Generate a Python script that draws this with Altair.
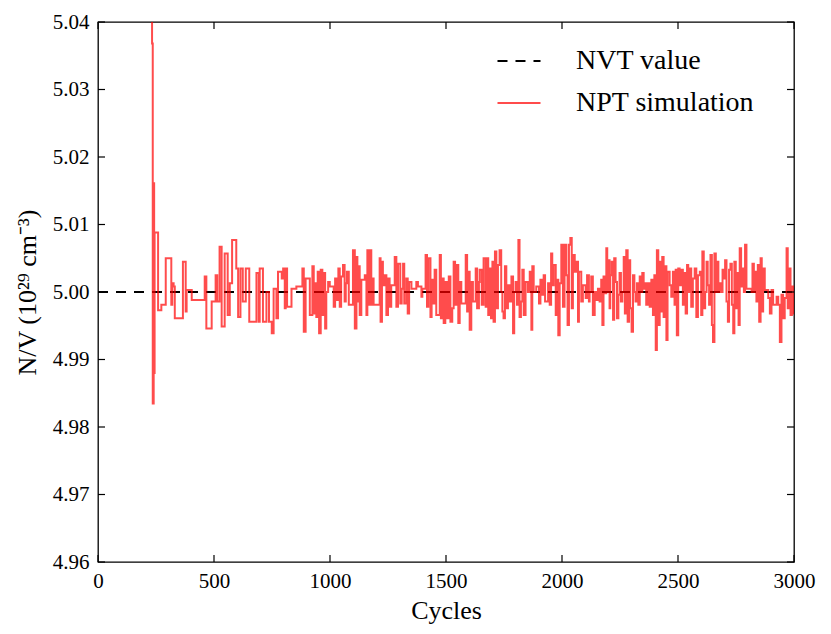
import altair as alt
import pandas as pd

# ---- data ----
cycles = [
    230, 233, 236, 240, 242, 244, 259, 273, 292, 316, 320, 326, 331, 366, 378, 382, 404,
    460, 467, 490, 507, 514, 524, 533, 546, 559, 568, 578, 596, 604, 614, 624, 637, 652, 683, 693,
    697, 711, 726, 737, 749, 757, 769, 776, 792, 798, 805, 809, 815, 834, 855, 881, 887, 895,
    913, 924, 930, 936, 941, 947, 953, 960, 967, 973, 979, 984, 992, 999, 1016, 1022, 1030,
    1036, 1042, 1048, 1056, 1063, 1068, 1073, 1081, 1099, 1107, 1114, 1118, 1122, 1128, 1135,
    1150, 1157, 1161, 1168, 1171, 1178, 1182, 1188, 1214, 1218, 1224, 1228, 1236, 1243, 1250,
    1257, 1264, 1279, 1286, 1293, 1303, 1309, 1315, 1320, 1329, 1335, 1341, 1351, 1372, 1379,
    1394, 1398, 1412, 1418, 1424, 1433, 1438, 1444, 1451, 1458, 1473, 1478, 1484, 1490, 1497,
    1504, 1512, 1519, 1527, 1533, 1539, 1547, 1553, 1559, 1566, 1585, 1591, 1596, 1602, 1609,
    1616, 1628, 1634, 1642, 1645, 1654, 1662, 1671, 1677, 1682, 1688, 1694, 1700, 1705, 1711,
    1717, 1724, 1731, 1738, 1743, 1748, 1754, 1760, 1767, 1774, 1782, 1789, 1794, 1800, 1806,
    1812, 1817, 1823, 1829, 1835, 1843, 1853, 1861, 1868, 1872, 1878, 1889, 1901, 1907, 1915,
    1921, 1927, 1940, 1947, 1953, 1958, 1964, 1973, 1978, 1984, 1990, 1997, 2004, 2011, 2019,
    2024, 2030, 2036, 2042, 2047, 2055, 2062, 2069, 2073, 2083, 2090, 2102, 2108, 2116, 2119,
    2126, 2133, 2141, 2148, 2155, 2162, 2169, 2174, 2179, 2185, 2191, 2195, 2201, 2205, 2208,
    2214, 2220, 2225, 2231, 2237, 2243, 2248, 2254, 2260, 2266, 2271, 2277, 2283, 2289, 2294,
    2300, 2306, 2312, 2317, 2323, 2329, 2335, 2340, 2346, 2352, 2358, 2363, 2370, 2378, 2385,
    2392, 2398, 2404, 2409, 2415, 2421, 2427, 2432, 2438, 2444, 2450, 2455, 2464, 2471, 2478,
    2485, 2490, 2495, 2501, 2507, 2514, 2521, 2527, 2533, 2539, 2544, 2550, 2557, 2564, 2572,
    2579, 2586, 2594, 2600, 2605, 2611, 2617, 2623, 2628, 2634, 2640, 2646, 2651, 2657, 2663,
    2669, 2674, 2680, 2686, 2692, 2697, 2703, 2709, 2715, 2720, 2726, 2732, 2738, 2743, 2749,
    2755, 2761, 2766, 2772, 2778, 2784, 2789, 2795, 2817, 2821, 2827, 2833, 2838, 2844, 2850,
    2856, 2861, 2867, 2874, 2889, 2896, 2903, 2910, 2925, 2932, 2939, 2946, 2953, 2960, 2968,
    2973, 2979, 2985, 2991, 2996, 3000,
]
nv = [
    5.0600, 5.0368, 4.9835, 5.0161, 4.9880, 5.0088, 4.9973, 4.9981, 5.0050, 4.9981, 5.0013, 5.0008, 4.9961, 5.0045, 4.9971, 5.0003, 4.9988,
    5.0023, 4.9946, 4.9986, 5.0025, 4.9986, 5.0067, 4.9949, 5.0057, 4.9966, 5.0013, 5.0077, 5.0035, 4.9963, 5.0035, 4.9986, 5.0035, 4.9956, 5.0028, 4.9956,
    5.0035, 4.9956, 5.0000, 4.9956, 4.9939, 5.0005, 4.9961, 5.0030, 5.0020, 5.0035, 4.9976, 5.0035, 4.9978, 5.0005, 5.0008, 5.0035, 4.9941, 5.0020,
    4.9966, 5.0038, 4.9968, 5.0013, 4.9963, 5.0030, 4.9939, 5.0033, 4.9966, 5.0028, 4.9946, 5.0000, 5.0015, 5.0008, 4.9978, 5.0020, 4.9988,
    5.0035, 4.9978, 5.0023, 5.0040, 4.9986, 5.0013, 5.0030, 4.9981, 5.0062, 4.9946, 5.0052, 4.9986, 5.0038, 4.9966, 5.0018,
    5.0025, 4.9966, 5.0062, 4.9981, 5.0062, 4.9981, 5.0020, 4.9981, 5.0050, 4.9956, 5.0045, 5.0010, 5.0025, 4.9966, 5.0020,
    4.9978, 5.0010, 5.0052, 4.9978, 5.0042, 4.9983, 5.0005, 5.0042, 4.9983, 5.0020, 4.9968, 5.0015, 5.0005, 5.0015, 5.0008,
    4.9993, 5.0005, 5.0055, 4.9978, 5.0050, 4.9963, 5.0018, 4.9983, 5.0033, 4.9966, 5.0055, 4.9961, 5.0020, 4.9954, 5.0015,
    4.9961, 5.0023, 4.9956, 4.9976, 5.0045, 4.9981, 5.0040, 4.9954, 5.0015, 4.9983, 5.0055, 4.9971, 5.0030, 4.9944, 5.0015,
    4.9986, 5.0035, 4.9976, 5.0015, 5.0033, 4.9981, 5.0050, 4.9978, 5.0050, 4.9966, 5.0035, 4.9961, 5.0045, 4.9956, 5.0060,
    4.9976, 5.0040, 5.0062, 5.0000, 4.9971, 4.9961, 5.0038, 4.9976, 5.0010, 4.9986, 5.0023, 4.9939, 5.0000, 5.0015, 4.9981,
    5.0077, 4.9963, 4.9986, 5.0033, 4.9966, 5.0015, 5.0000, 5.0030, 4.9944, 5.0038, 5.0000, 5.0008, 4.9983, 5.0018, 4.9996,
    5.0025, 4.9986, 5.0013, 4.9981, 5.0057, 5.0010, 5.0040, 4.9966, 5.0018, 4.9936, 5.0013, 5.0070, 4.9978, 5.0070, 5.0025,
    4.9951, 5.0070, 5.0080, 4.9976, 5.0055, 5.0030, 5.0045, 4.9956, 5.0030, 4.9986, 5.0010, 4.9991, 5.0025, 4.9986, 5.0000,
    5.0023, 4.9966, 5.0000, 4.9988, 5.0005, 4.9986, 5.0018, 4.9951, 5.0023, 4.9998, 5.0065, 5.0000, 5.0047, 4.9976, 5.0025,
    5.0045, 4.9959, 5.0050, 5.0015, 4.9961, 4.9996, 5.0028, 4.9986, 5.0000, 5.0052, 4.9968, 5.0062, 4.9956, 5.0047, 4.9976,
    4.9941, 5.0025, 5.0000, 4.9986, 5.0013, 4.9981, 5.0023, 5.0000, 5.0028, 5.0005, 5.0013, 4.9981, 5.0013, 4.9978, 5.0018,
    4.9966, 5.0025, 4.9914, 5.0062, 4.9951, 5.0045, 4.9971, 5.0052, 4.9963, 5.0038, 4.9929, 5.0030, 5.0010, 4.9993, 5.0030,
    4.9981, 5.0033, 4.9936, 5.0035, 5.0010, 5.0033, 4.9981, 5.0028, 4.9968, 5.0040, 5.0000, 5.0035, 4.9978, 5.0020, 5.0035,
    4.9963, 5.0025, 5.0030, 4.9966, 5.0060, 4.9976, 5.0000, 5.0045, 5.0010, 4.9981, 5.0055, 4.9951, 4.9926, 5.0057, 5.0000,
    5.0045, 5.0000, 5.0013, 5.0000, 5.0033, 5.0020, 5.0047, 4.9986, 4.9956, 5.0033, 5.0042, 4.9981, 4.9939, 5.0045, 4.9976,
    5.0028, 4.9951, 5.0065, 5.0008, 5.0035, 5.0000, 5.0070, 5.0005, 5.0000, 5.0042, 5.0000, 5.0030, 4.9986, 5.0040, 4.9956,
    5.0050, 4.9971, 5.0035, 5.0003, 4.9991, 4.9968, 5.0003, 4.9981, 4.9993, 4.9981, 4.9926, 4.9996, 4.9961, 4.9991, 5.0065,
    4.9976, 5.0035, 4.9966, 5.0008, 4.9968, 5.0005,
]
nvt_value = 5.00
nvt_cycles = [0, 3000]
series_names = ["NVT value", "NPT simulation"]
x_ticks = [0, 500, 1000, 1500, 2000, 2500, 3000]
y_ticks = [4.96, 4.97, 4.98, 4.99, 5.00, 5.01, 5.02, 5.03, 5.04]

x_title = "Cycles"
y_title = "N/V (10²⁹ cm⁻³)"

W, H = 696, 540
TICK = 7

npt = pd.DataFrame({"cycle": cycles, "nv": nv, "series": series_names[1]})
nvt = pd.DataFrame({"cycle": nvt_cycles, "nv": [nvt_value] * len(nvt_cycles), "series": series_names[0]})

legend = alt.Legend(
    title=None, orient="none", legendX=398, legendY=16,
    symbolType="stroke", symbolSize=1850, symbolStrokeWidth=2,
    labelFont="Liberation Serif", labelFontSize=28, labelColor="black",
    labelOffset=34, rowPadding=5, labelLimit=400,
)

x_enc = alt.X("cycle:Q", title=x_title,
              scale=alt.Scale(domain=[0, 3000], nice=False, zero=False),
              axis=alt.Axis(values=x_ticks, format="d", labelPadding=8, titlePadding=6,
                            labelFlush=False, grid=False, ticks=False, domain=False))
y_enc = alt.Y("nv:Q", title=y_title,
              scale=alt.Scale(domain=[4.96, 5.04], nice=False, zero=False),
              axis=alt.Axis(values=y_ticks, format=".2f", labelPadding=9, titlePadding=12,
                            labelFlush=False, grid=False, ticks=False, domain=False))

color = alt.Color("series:N", scale=alt.Scale(domain=series_names, range=["#000000", "#ff0000"]), legend=legend)
dash = alt.StrokeDash("series:N", scale=alt.Scale(domain=series_names, range=[[10, 8], [1, 0]]), legend=legend)
opac = alt.Opacity("series:N", scale=alt.Scale(domain=series_names, range=[1.0, 0.7]), legend=legend)

nvt_line = alt.Chart(nvt).mark_line(strokeWidth=2, clip=True).encode(
    x=x_enc, y=y_enc, color=color, strokeDash=dash, opacity=opac)
npt_line = alt.Chart(npt).mark_line(strokeWidth=2, clip=True, interpolate="step-after").encode(
    x=x_enc, y=y_enc, color=color, strokeDash=dash, opacity=opac)

xt = pd.DataFrame({"cycle": x_ticks})
yt = pd.DataFrame({"nv": y_ticks})
xq = alt.X("cycle:Q", title=x_title)
yq = alt.Y("nv:Q", title=y_title)
tick_top = alt.Chart(xt).mark_rule(color="black", strokeWidth=1.2).encode(
    x=xq, y=alt.value(0), y2=alt.value(TICK))
tick_bottom = alt.Chart(xt).mark_rule(color="black", strokeWidth=1.2).encode(
    x=xq, y=alt.value(H), y2=alt.value(H - TICK))
tick_left = alt.Chart(yt).mark_rule(color="black", strokeWidth=1.2).encode(
    y=yq, x=alt.value(0), x2=alt.value(TICK))
tick_right = alt.Chart(yt).mark_rule(color="black", strokeWidth=1.2).encode(
    y=yq, x=alt.value(W), x2=alt.value(W - TICK))

chart = alt.layer(
    nvt_line, npt_line, tick_top, tick_bottom, tick_left, tick_right
).properties(
    width=W, height=H,
    background="white",
    autosize=alt.AutoSizeParams(type="none"),
    padding={"left": 90, "top": 14, "right": 28, "bottom": 64},
).configure_view(
    stroke="black", strokeWidth=1.3,
).configure_axis(
    grid=False, ticks=False, domain=False,
    labelFont="Liberation Serif", labelFontSize=21, labelColor="black",
    titleFont="Liberation Serif", titleFontSize=26, titleFontWeight="normal", titleColor="black",
)

chart.save("out.html", embed_options={"renderer": "svg", "actions": False})
